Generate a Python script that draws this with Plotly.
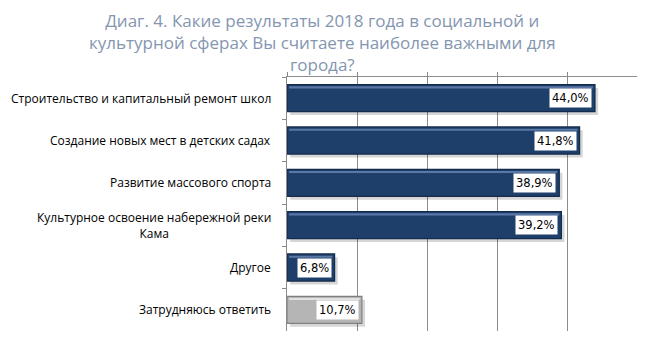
import plotly.graph_objects as go

categories = [
    "Строительство и капитальный ремонт школ",
    "Создание новых мест в детских садах",
    "Развитие массового спорта",
    "Культурное освоение набережной реки<br>Кама",
    "Другое",
    "Затрудняюсь ответить",
]
values = [44.0, 41.8, 38.9, 39.2, 6.8, 10.7]
value_labels = ["44,0%", "41,8%", "38,9%", "39,2%", "6,8%", "10,7%"]
title_text = ("Диаг. 4. Какие результаты 2018 года в социальной и<br>"
              "культурной сферах Вы считаете наиболее важными для<br>города?")

fill_colors = ["#1F3F6B"] * 5 + ["#B5B5B5"]
line_colors = ["#132B4C"] * 5 + ["#808080"]
highlight_colors = ["rgba(110,140,185,0.75)"] * 5 + ["rgba(230,230,230,0.9)"]

bar_width = 0.64
inset = 0.3  # highlight inset from both bar ends, in axis units

fig = go.Figure()

# soft shadow behind bars
fig.add_trace(go.Bar(
    y=categories, x=values, orientation="h", base=0.45,
    width=bar_width, offset=-bar_width / 2 + 0.08,
    marker=dict(color="rgba(0,0,0,0.16)", line=dict(width=0)),
    hoverinfo="skip", showlegend=False,
))

fig.add_trace(go.Bar(
    y=categories, x=values, orientation="h",
    width=bar_width, offset=-bar_width / 2,
    marker=dict(color=fill_colors, line=dict(color=line_colors, width=1.2)),
    showlegend=False,
))

# thin light band along the top edge of each bar (bevel look)
fig.add_trace(go.Bar(
    y=categories, x=[v - 2 * inset for v in values], orientation="h", base=inset,
    width=0.05, offset=-bar_width / 2 + 0.04,
    marker=dict(color=highlight_colors, line=dict(width=0)),
    hoverinfo="skip", showlegend=False,
))

annotations = [dict(
    x=0.1, y=1, xref="paper", yref="paper", text=title_text, showarrow=False,
    xanchor="center", yanchor="bottom", yshift=-1, align="center",
    font=dict(family="Open Sans", size=17, color="#8496B0"),
)]
for cat, v, lab in zip(categories, values, value_labels):
    annotations.append(dict(
        x=v, y=cat, xref="x", yref="y", text=lab, showarrow=False,
        xanchor="right", yanchor="middle", xshift=-3,
        bgcolor="white", borderpad=2,
        font=dict(family="DejaVu Sans", size=11.5, color="#000000"),
    ))
    annotations.append(dict(
        x=0, y=cat, xref="paper", yref="y", text=cat, showarrow=False,
        xanchor="right", yanchor="middle", xshift=-14, align="center",
        font=dict(family="Open Sans", size=12, color="#000000"),
    ))

fig.update_layout(
    width=654, height=352,
    margin=dict(l=287, r=17, t=77, b=21),
    paper_bgcolor="white", plot_bgcolor="white",
    barmode="overlay",
    annotations=annotations,
    xaxis=dict(
        range=[0, 50], side="top", showticklabels=False,
        tickvals=[0, 10, 20, 30, 40], ticks="outside", ticklen=4, tickcolor="#888888",
        showgrid=True, gridcolor="#8C8C8C", gridwidth=1,
        showline=True, linecolor="#8C8C8C", linewidth=1,
        zeroline=False, fixedrange=True,
    ),
    yaxis=dict(
        categoryorder="array", categoryarray=categories, autorange="reversed",
        showticklabels=False, ticks="outside", ticklen=4, tickcolor="#888888",
        tickson="boundaries", showgrid=False,
        showline=True, linecolor="#8C8C8C", linewidth=1, fixedrange=True,
    ),
)

fig.write_html("out.html")
